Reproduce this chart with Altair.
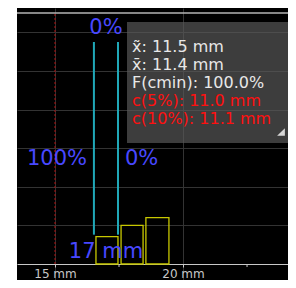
import altair as alt
import pandas as pd

# ---- data ----
bin_start = [16.6, 17.58, 18.55]
bin_end = [17.46, 18.44, 19.45]
bin_height = [0.71, 1.0, 1.2]

limit_x = [16.52, 17.46]
limit_top = [5.75, 5.75]
limit_bottom = [0.76, 0.76]

ref_x = [15.0]
frame_top = 6.5

blue_labels = ["0%", "100%", "0%", "17 mm"]
blue_x = [16.99, 16.25, 17.73, 16.99]
blue_y = [6.11, 2.72, 2.72, 0.31]
blue_align = ["center", "right", "left", "center"]

info_lines = ["x\u0303: 11.5 mm", "x\u0304: 11.4 mm", "F(cmin): 100.0%", "c(5%): 11.0 mm", "c(10%): 11.1 mm"]
info_colors = ["#e8e8e8", "#e8e8e8", "#e8e8e8", "#ff1010", "#ff1010"]

x_ticks = [15, 20]
x_minor = [17.5, 22.5]
y_grid = [1, 2, 3, 4, 5, 6]

X_DOM = [13.516, 24.1]
Y_DOM = [-0.414, 6.63]

xs = alt.Scale(domain=X_DOM, nice=False, zero=False)
ys = alt.Scale(domain=Y_DOM, nice=False, zero=False)

bars = pd.DataFrame({"x0": bin_start, "x1": bin_end, "h": bin_height, "b": [0] * 3})
limits = pd.DataFrame({"x": limit_x, "y0": limit_bottom, "y1": limit_top})
blues = pd.DataFrame({"t": blue_labels, "x": blue_x, "y": blue_y, "a": blue_align})
info = pd.DataFrame({"t": info_lines, "c": info_colors, "i": list(range(len(info_lines)))})

base_axis = alt.Chart(pd.DataFrame({"x": [15.0], "y": [0.0]})).mark_point(opacity=0).encode(
    x=alt.X("x:Q", scale=xs, axis=alt.Axis(
        values=x_ticks, title=None, offset=-16, grid=True, gridColor="#333333",
        domainColor="#c8c8c8", tickColor="#c8c8c8", tickSize=3,
        labelColor="#c8c8c8", labelFont="DejaVu Sans", labelFontSize=12,
        labelPadding=1, labelExpr="datum.value + ' mm'")),
    y=alt.Y("y:Q", scale=ys, axis=alt.Axis(
        values=y_grid, title=None, grid=True, gridColor="#333333",
        labels=False, ticks=False, domain=False)),
)

minor = alt.Chart(pd.DataFrame({"x": x_minor})).mark_rule(color="#c8c8c8").encode(
    x=alt.X("x:Q", scale=xs), y=alt.value(256), y2=alt.value(259))

top_line = alt.Chart(pd.DataFrame({"y": [frame_top]})).mark_rule(color="#b4b4b4", strokeWidth=1.5).encode(
    y=alt.Y("y:Q", scale=ys))

ref = alt.Chart(pd.DataFrame({"x": ref_x, "y0": [0.0], "y1": [frame_top]})).mark_rule(
    color="#b01010", strokeDash=[2, 2]).encode(
    x=alt.X("x:Q", scale=xs), y=alt.Y("y0:Q", scale=ys), y2="y1:Q")

bar_layer = alt.Chart(bars).mark_rect(fill=None, stroke="#c8c800", strokeWidth=1.3).encode(
    x=alt.X("x0:Q", scale=xs), x2="x1:Q", y=alt.Y("b:Q", scale=ys), y2="h:Q")

lim_layer = alt.Chart(limits).mark_rule(color="#20a8b8", strokeWidth=2).encode(
    x=alt.X("x:Q", scale=xs), y=alt.Y("y0:Q", scale=ys), y2="y1:Q")

blue_layers = []
for al in ["center", "right", "left"]:
    blue_layers.append(
        alt.Chart(blues[blues["a"] == al]).mark_text(
            font="DejaVu Sans", fontSize=21, color="#4848ff", align=al, baseline="middle").encode(
            x=alt.X("x:Q", scale=xs), y=alt.Y("y:Q", scale=ys), text="t:N"))

box = alt.Chart(pd.DataFrame({"a": [0]})).mark_rect(fill="#5a5a5a", opacity=0.68).encode(
    x=alt.value(110), x2=alt.value(271), y=alt.value(14), y2=alt.value(135))

info_layer = alt.Chart(info).mark_text(
    font="DejaVu Sans", fontSize=16, align="left", baseline="middle").encode(
    x=alt.value(115),
    y=alt.Y("i:O", scale=alt.Scale(domain=list(range(5)), range=[30, 120]), axis=None),
    text="t:N",
    color=alt.Color("c:N", scale=None))

tri = alt.Chart(pd.DataFrame({"a": [0]})).mark_point(
    shape="M 1 -1 L 1 1 L -1 1 Z", filled=True, color="#d8d8d8", opacity=1, size=60).encode(
    x=alt.value(264), y=alt.value(124))

chart = alt.layer(
    base_axis, ref, top_line, minor, bar_layer, lim_layer, *blue_layers, box, info_layer, tri
).properties(
    width=271, height=272,
    padding={"left": 9, "top": 0, "right": 0, "bottom": 0},
    autosize=alt.AutoSizeParams(type="none"),
    background="white",
).configure_view(fill="black", stroke=None)

chart.save("out.html", embed_options={"renderer": "svg", "actions": False})
